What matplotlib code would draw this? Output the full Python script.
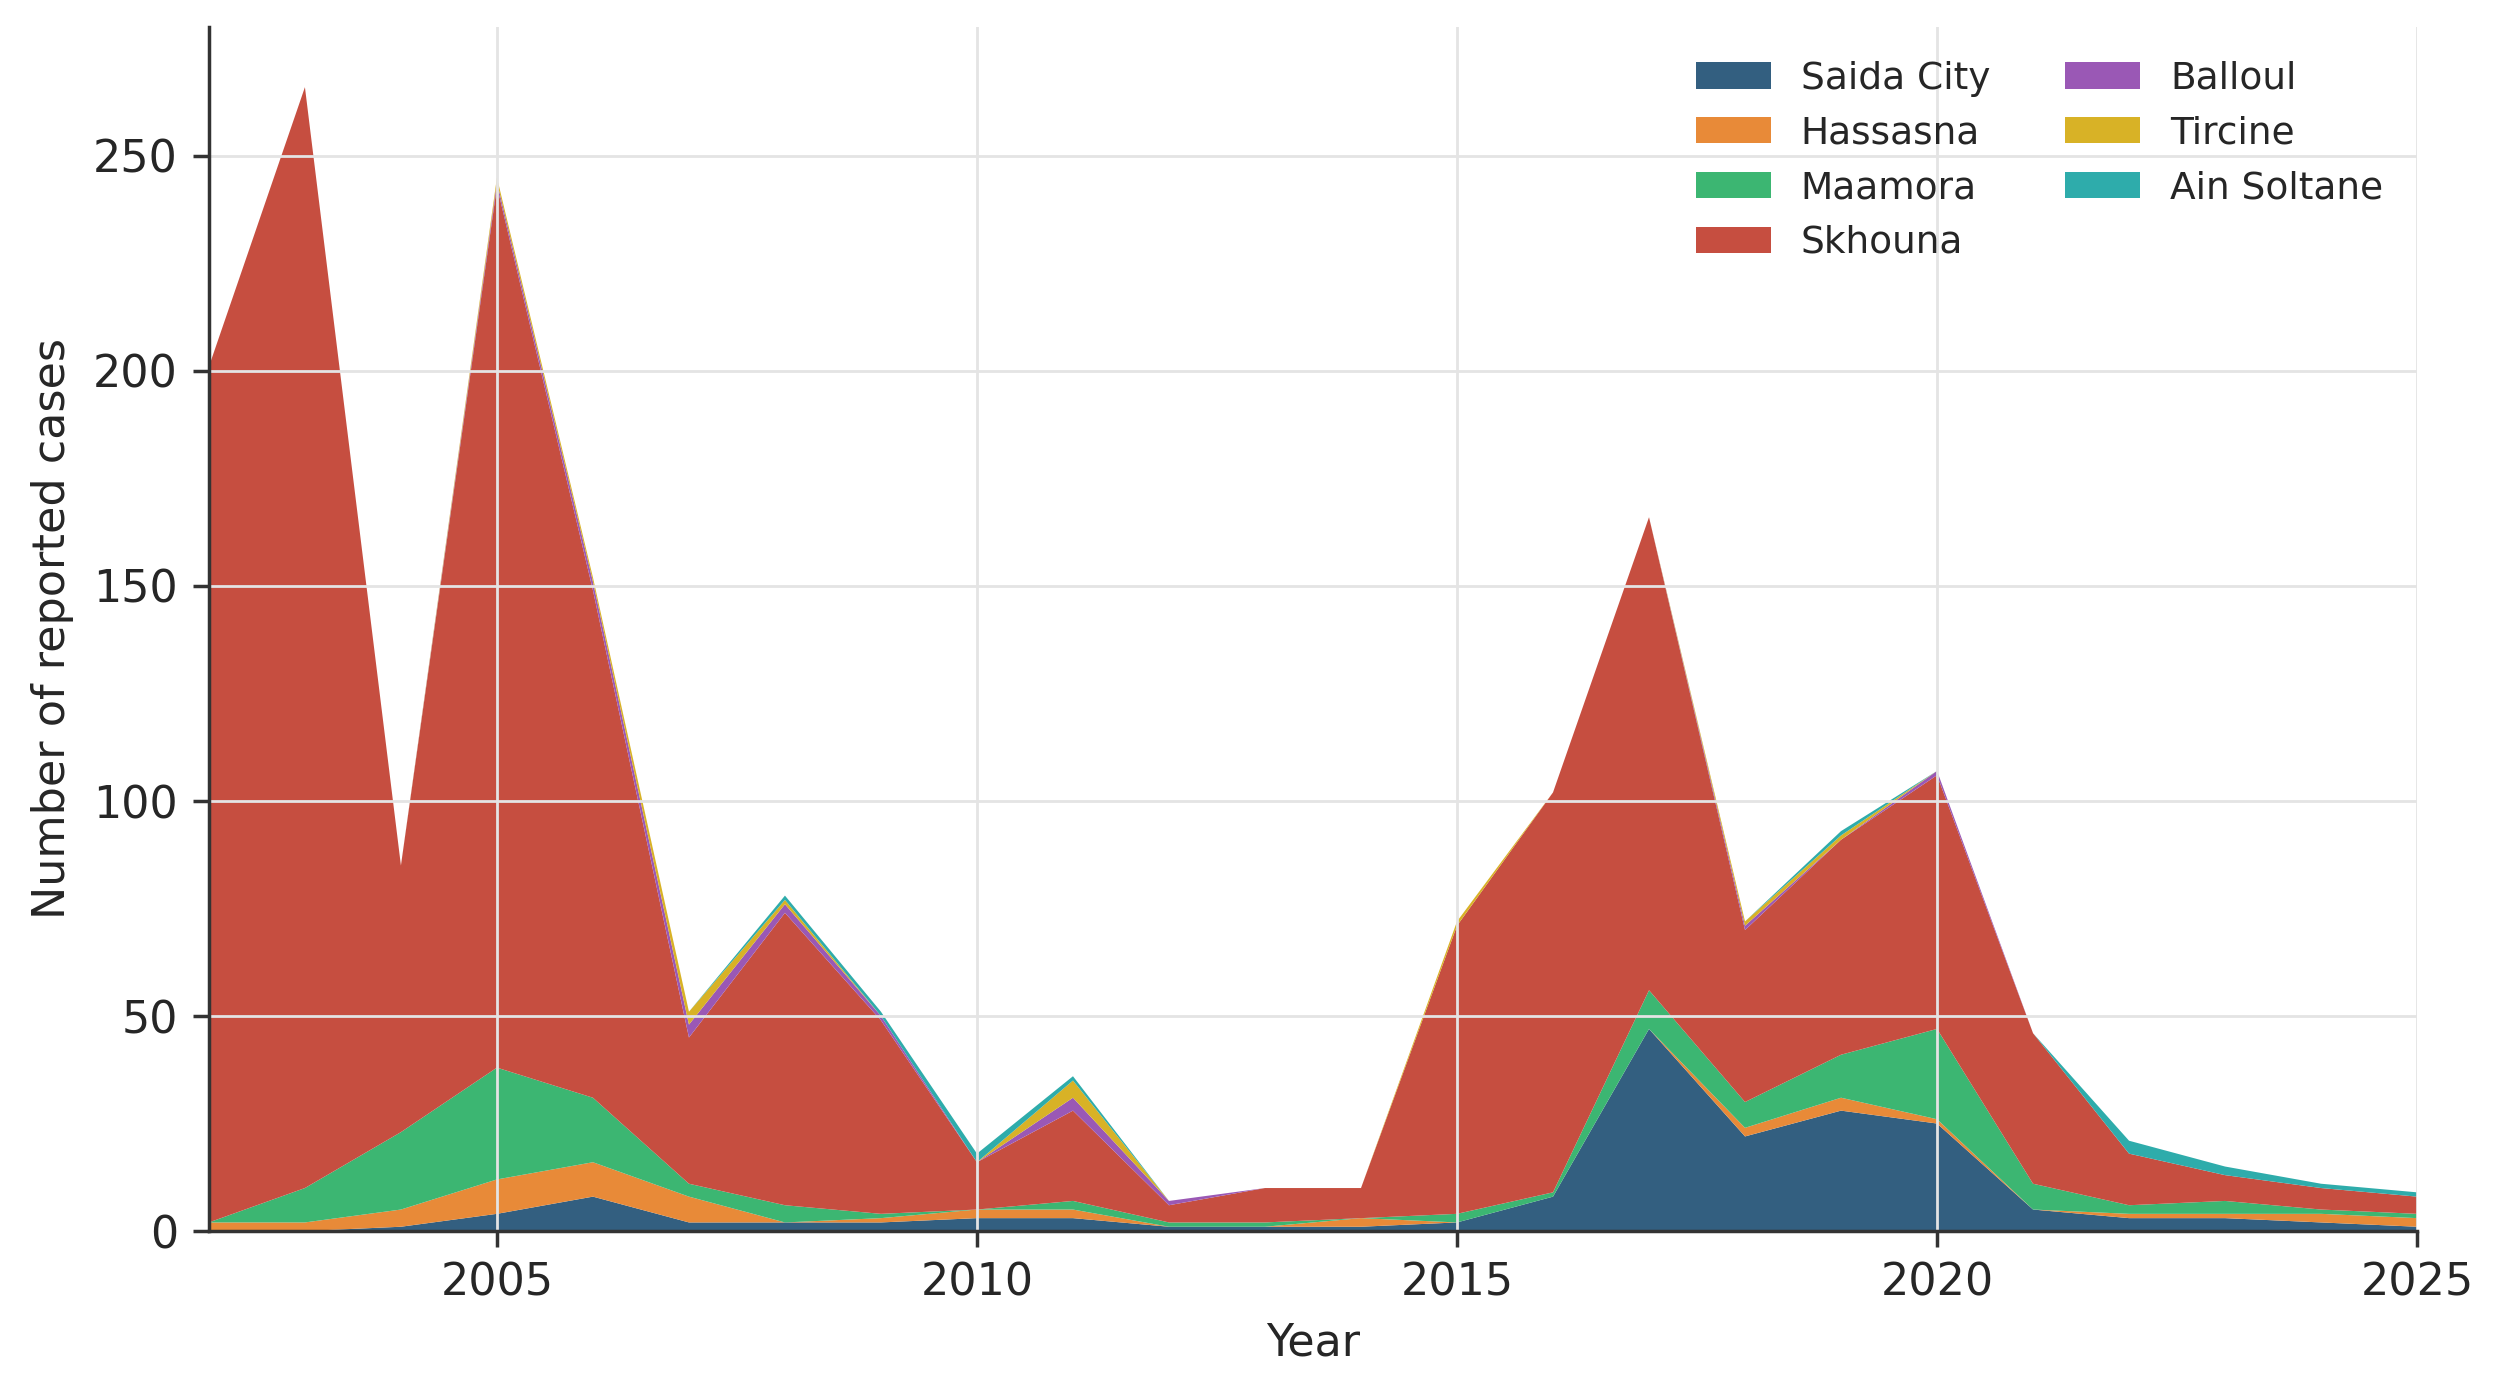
import matplotlib
matplotlib.use("Agg")
import matplotlib.pyplot as plt
import numpy as np

# yearly reported cases per commune
years = list(range(2002, 2026))

saida_city  = [0, 0, 1, 4, 8, 2, 2, 2, 3, 3, 1, 1, 1, 2, 8, 47, 22, 28, 25, 5, 3, 3, 2, 1]
hassasna    = [2, 2, 4, 8, 8, 6, 0, 1, 2, 2, 0, 0, 2, 0, 0, 0, 2, 3, 1, 0, 1, 1, 2, 2]
maamora     = [0, 8, 18, 26, 15, 3, 4, 1, 0, 2, 1, 1, 0, 2, 1, 9, 6, 10, 21, 6, 2, 3, 1, 1]
skhouna     = [199, 256, 62, 205, 118, 34, 68, 45, 11, 21, 4, 8, 7, 67, 93, 110, 40, 50, 59, 35, 12, 6, 5, 4]
balloul     = [0, 0, 0, 1, 2, 3, 2, 1, 0, 3, 1, 0, 0, 0, 0, 0, 1, 0, 1, 0, 0, 0, 0, 0]
tircine     = [0, 0, 0, 1, 1, 3, 1, 0, 0, 4, 0, 0, 0, 1, 0, 0, 1, 1, 0, 0, 0, 0, 0, 0]
ain_soltane = [0, 0, 0, 0, 0, 0, 1, 1, 2, 1, 0, 0, 0, 0, 0, 0, 0, 1, 0, 0, 3, 2, 1, 1]

labels = ["Saida City", "Hassasna", "Maamora", "Skhouna", "Balloul", "Tircine", "Ain Soltane"]
colors = ["#335f80", "#e88a38", "#3cb672", "#c64e40", "#9a58b5", "#d8b226", "#2eacab"]

text_color = "#262626"
plt.rcParams["font.family"] = ["DejaVu Sans"]
plt.rcParams["text.color"] = text_color
plt.rcParams["axes.labelcolor"] = text_color
plt.rcParams["xtick.color"] = text_color
plt.rcParams["ytick.color"] = text_color

fig = plt.figure(figsize=(12.525, 6.985), dpi=200)
ax = fig.add_axes([0.0834, 0.1188, 0.8815, 0.8619])

series = [saida_city, hassasna, maamora, skhouna, balloul, tircine, ain_soltane]
ax.stackplot(years, *series, labels=labels, colors=colors, linewidth=0)

ax.set_xlim(years[0], years[-1])
ax.set_ylim(0, 280)
ax.set_xticks([2005, 2010, 2015, 2020, 2025])
ax.set_yticks([0, 50, 100, 150, 200, 250])

# grid is drawn over the filled areas
ax.grid(True, color="#e4e4e4", linewidth=1.0)

for side in ["top", "right"]:
    ax.spines[side].set_visible(False)
for side in ["left", "bottom"]:
    ax.spines[side].set_linewidth(1.25)
    ax.spines[side].set_color("#333333")

ax.tick_params(axis="both", length=5.6, width=1.25, pad=5.5, labelsize=16, color="#333333")

ax.set_xlabel("Year", fontsize=16, labelpad=6)
ax.set_ylabel("Number of reported cases", fontsize=16, labelpad=7)

ax.legend(loc="upper right", ncol=2, frameon=False, fontsize=13.5)

fig.savefig("out.png", dpi=200)
